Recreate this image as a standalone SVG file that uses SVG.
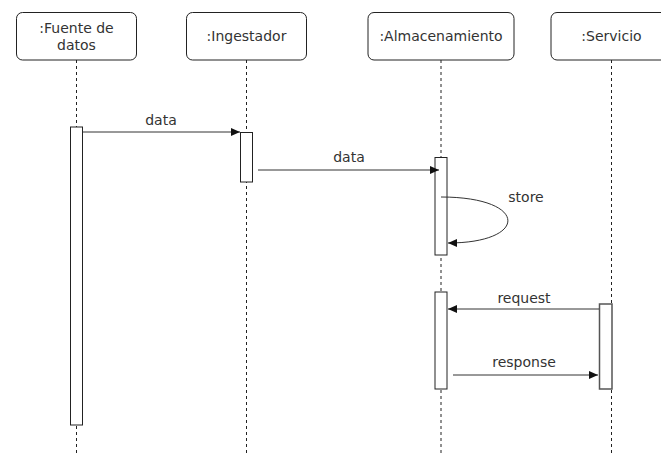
<svg xmlns="http://www.w3.org/2000/svg" width="661" height="455" viewBox="0 0 661 455">
<style>
.box{fill:#fff;stroke:#222;stroke-width:1}
.life{stroke:#222;stroke-width:1;stroke-dasharray:3 3;fill:none}
.bar{fill:#fff;stroke:#222;stroke-width:1}
.msg{stroke:#333;stroke-width:1;fill:none;marker-end:url(#ah)}
text{font-family:"DejaVu Sans",Verdana,sans-serif;font-size:14px;fill:#333;text-anchor:middle}
</style>
<defs>
<marker id="ah" markerUnits="userSpaceOnUse" markerWidth="10" markerHeight="8" refX="9" refY="4" orient="auto">
<path d="M0,0 L9,4 L0,8 z" fill="#111"/>
</marker>
</defs>
<rect width="661" height="455" fill="#fff"/>
<g id="lifelines">
<line class="life" x1="76.5" y1="60" x2="76.5" y2="455"/>
<line class="life" x1="246.5" y1="60" x2="246.5" y2="455"/>
<line class="life" x1="441" y1="60" x2="441" y2="455"/>
<line class="life" x1="611.5" y1="60" x2="611.5" y2="455"/>
</g>
<g id="fuente">
<rect class="box" x="16.5" y="12.5" width="120" height="47.5" rx="6"/>
<text x="76.5" y="33">:Fuente de</text>
<text x="76.5" y="50">datos</text>
<rect class="bar" x="70.5" y="127" width="12" height="298"/>
</g>
<g id="ingestador">
<rect class="box" x="186.5" y="12.5" width="120" height="47.5" rx="6"/>
<text x="246.5" y="41">:Ingestador</text>
<rect class="bar" x="240.5" y="132.5" width="12" height="49.5"/>
</g>
<g id="almacenamiento">
<rect class="box" x="368" y="12.5" width="146" height="47.5" rx="6"/>
<text x="441" y="41">:Almacenamiento</text>
<rect class="bar" x="435" y="157.5" width="12" height="97.5"/>
<rect class="bar" x="435" y="292" width="12" height="97"/>
</g>
<g id="servicio">
<rect class="box" x="551" y="12.5" width="121" height="47.5" rx="6"/>
<text x="611.5" y="41">:Servicio</text>
<rect class="bar" x="599.5" y="304" width="12.5" height="85" style="stroke:#555;stroke-width:1.5"/>
</g>
<g id="connectors">
<path class="msg" d="M82.5,132 L240,132"/>
<text x="161" y="125">data</text>
<path class="msg" d="M258,170 L439,170"/>
<text x="349" y="162">data</text>
<path class="msg" d="M441,197 C529,197 529,243 448,243"/>
<text x="526" y="202">store</text>
<path class="msg" d="M599,309 L448,309"/>
<text x="524" y="303">request</text>
<path class="msg" d="M453,375 L598,375"/>
<text x="524" y="367">response</text>
</g>
</svg>
